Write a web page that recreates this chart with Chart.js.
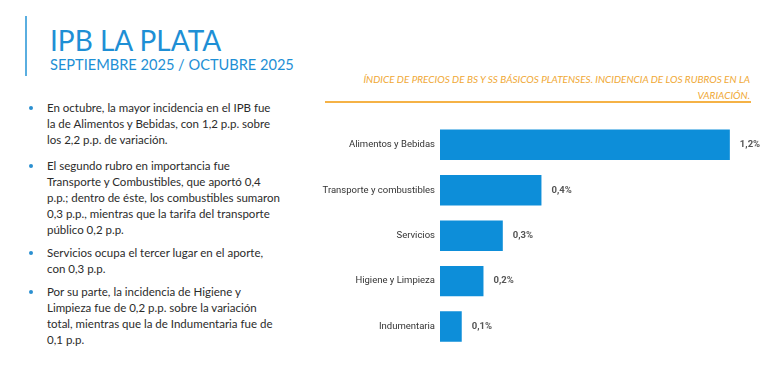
<!DOCTYPE html>
<html>
<head>
<meta charset="utf-8">
<script src="https://cdn.jsdelivr.net/npm/chart.js@4/dist/chart.umd.min.js"></script>
<style>
  html, body { margin: 0; padding: 0; background: #fff; }
  body { width: 768px; height: 388px; position: relative; overflow: hidden; font-family: Lato, sans-serif; }
  .vline { position: absolute; left: 25px; top: 16px; width: 2px; height: 60px; background: #5aaee0; }
  .title { position: absolute; left: 50px; top: 26px; font-size: 28px; line-height: 28px; color: #1e8fd5; white-space: nowrap; }
  .sub { position: absolute; left: 50px; top: 57px; font-size: 14.6px; line-height: 15px; color: #1e8fd5; white-space: nowrap; }
  .head { position: absolute; right: 18px; top: 71px; width: 440px; text-align: right; font-size: 10px; line-height: 16px; font-style: italic; color: #f0a834; }
  .hline { position: absolute; left: 325px; top: 101px; width: 426px; height: 2px; background: #f5b246; }
  .para { position: absolute; left: 47px; font-size: 11.5px; line-height: 16px; color: #2b2b2b; white-space: nowrap; }
  .para::before { content: ""; position: absolute; left: -18px; top: 6px; width: 4px; height: 4px; border-radius: 50%; background: #2a8fd0; }
  #wrap { position: absolute; left: 320px; top: 110px; width: 448px; height: 250px; }
</style>
</head>
<body>
<div class="vline"></div>
<div class="title">IPB LA PLATA</div>
<div class="sub">SEPTIEMBRE 2025 / OCTUBRE 2025</div>
<div class="head">ÍNDICE DE PRECIOS DE BS Y SS BÁSICOS PLATENSES. INCIDENCIA DE LOS RUBROS EN LA<br>VARIACIÓN.</div>
<div class="hline"></div>

<div class="para" style="top:100px">En octubre, la mayor incidencia en el IPB fue<br>la de Alimentos y Bebidas, con 1,2 p.p. sobre<br>los 2,2 p.p. de variación.</div>
<div class="para" style="top:158px">El segundo rubro en importancia fue<br>Transporte y Combustibles, que aportó 0,4<br>p.p.; dentro de éste, los combustibles sumaron<br>0,3 p.p., mientras que la tarifa del transporte<br>público 0,2 p.p.</div>
<div class="para" style="top:245px">Servicios ocupa el tercer lugar en el aporte,<br>con 0,3 p.p.</div>
<div class="para" style="top:284px">Por su parte, la incidencia de Higiene y<br>Limpieza fue de 0,2 p.p. sobre la variación<br>total, mientras que la de Indumentaria fue de<br>0,1 p.p.</div>

<div id="wrap"><canvas id="chart" width="448" height="250"></canvas></div>

<script>
const rubros = ["Alimentos y Bebidas", "Transporte y combustibles", "Servicios", "Higiene y Limpieza", "Indumentaria"];
const incidencia = [1.2, 0.42, 0.26, 0.18, 0.09];

const barLabels = {
  id: "barLabels",
  afterDatasetsDraw(chart) {
    const ctx = chart.ctx;
    const meta = chart.getDatasetMeta(0);
    ctx.save();
    ctx.font = "bold 9.5px Roboto";
    ctx.fillStyle = "#555";
    ctx.textAlign = "left";
    ctx.textBaseline = "middle";
    meta.data.forEach((bar, i) => {
      const txt = incidencia[i].toFixed(1).replace(".", ",") + "%";
      ctx.fillText(txt, bar.x + 10, bar.y);
    });
    ctx.restore();
  }
};

new Chart(document.getElementById("chart"), {
  type: "bar",
  data: {
    labels: rubros,
    datasets: [{
      data: incidencia,
      backgroundColor: "#0d8ed9",
      borderWidth: 0,
      barPercentage: 0.67,
      categoryPercentage: 1
    }]
  },
  options: {
    indexAxis: "y",
    responsive: false,
    animation: false,
    layout: { padding: { top: 12, bottom: 7, right: 14, left: 0 } },
    plugins: { legend: { display: false }, tooltip: { enabled: false } },
    scales: {
      x: { display: false, min: 0, max: 1.3 },
      y: {
        afterFit(scale) { scale.width = 120; },
        grid: { display: false, drawTicks: false },
        border: { display: false },
        ticks: { padding: 5, color: "#333", font: { family: "Roboto", size: 9.5 } }
      }
    }
  },
  plugins: [barLabels]
});
</script>
</body>
</html>
